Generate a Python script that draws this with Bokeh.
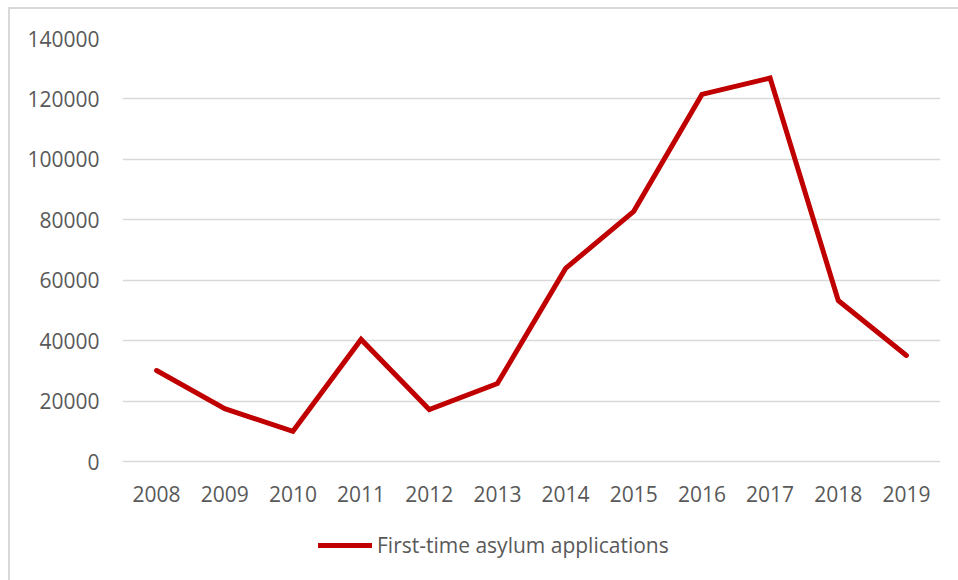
from bokeh.plotting import figure
from bokeh.models import (FactorRange, Range1d, Legend, LegendItem, FixedTicker,
                          NumeralTickFormatter, InlineStyleSheet)
from bokeh.embed import file_html
from bokeh.resources import INLINE

# First-time asylum applications per year
years = ["2008", "2009", "2010", "2011", "2012", "2013",
         "2014", "2015", "2016", "2017", "2018", "2019"]
applications = [30100, 17500, 10000, 40400, 17200, 25800,
                63900, 82800, 121500, 126900, 53300, 35100]
y_ticks = [0, 20000, 40000, 60000, 80000, 100000, 120000, 140000]

FONT = "Open Sans"
TEXT = "#595959"
GRID = "#d9d9d9"
RED = "#c00000"

# frame geometry (pixels): plot top, zero line, bottom of the legend strip
TOP, ZERO, BOTTOM = 38, 461, 575
y_max = y_ticks[-1]
y_min = -y_max * (BOTTOM - ZERO) / (ZERO - TOP)   # room under the zero line for labels and legend

# thin light frame around the chart area (top and left edges visible)
chart_frame = InlineStyleSheet(css="""
:host::after {
  content: ""; position: absolute; pointer-events: none;
  left: 8px; top: 7px; right: -20px; bottom: -20px;
  border-left: 2px solid #d9d9d9; border-top: 2px solid #d9d9d9;
}
""")

p = figure(width=958, height=580, output_backend="svg", toolbar_location=None,
           x_range=FactorRange(factors=years, range_padding=0),
           y_range=Range1d(y_min, y_max),
           min_border_left=122, min_border_right=18,
           min_border_top=TOP, min_border_bottom=580 - BOTTOM,
           stylesheets=[chart_frame])
p.outline_line_color = None
p.background_fill_color = "white"
p.border_fill_color = "white"

line = p.line(years, applications, line_color=RED, line_width=5,
              line_join="miter", line_cap="round")

p.yaxis.ticker = FixedTicker(ticks=y_ticks)
p.yaxis.formatter = NumeralTickFormatter(format="0")
p.xaxis.fixed_location = 0
for ax in (p.xaxis[0], p.yaxis[0]):
    ax.axis_line_color = None
    ax.major_tick_line_color = None
    ax.minor_tick_line_color = None
    ax.major_label_text_font = FONT
    ax.major_label_text_font_size = "21px"
    ax.major_label_text_color = TEXT
p.yaxis.major_label_standoff = 17
p.xaxis.major_label_standoff = 18

p.xgrid.grid_line_color = None
p.ygrid.grid_line_color = GRID
p.ygrid.grid_line_width = 1.5

legend = Legend(items=[LegendItem(label="First-time asylum applications", renderers=[line])],
                location=(196, 16), orientation="horizontal",
                padding=0, margin=0, spacing=0,
                glyph_width=54, glyph_height=20, label_standoff=5,
                label_text_font=FONT, label_text_font_size="21px", label_text_color=TEXT,
                border_line_color=None, background_fill_alpha=0)
p.add_layout(legend, "center")

open("out.html", "w").write(file_html(p, INLINE))
